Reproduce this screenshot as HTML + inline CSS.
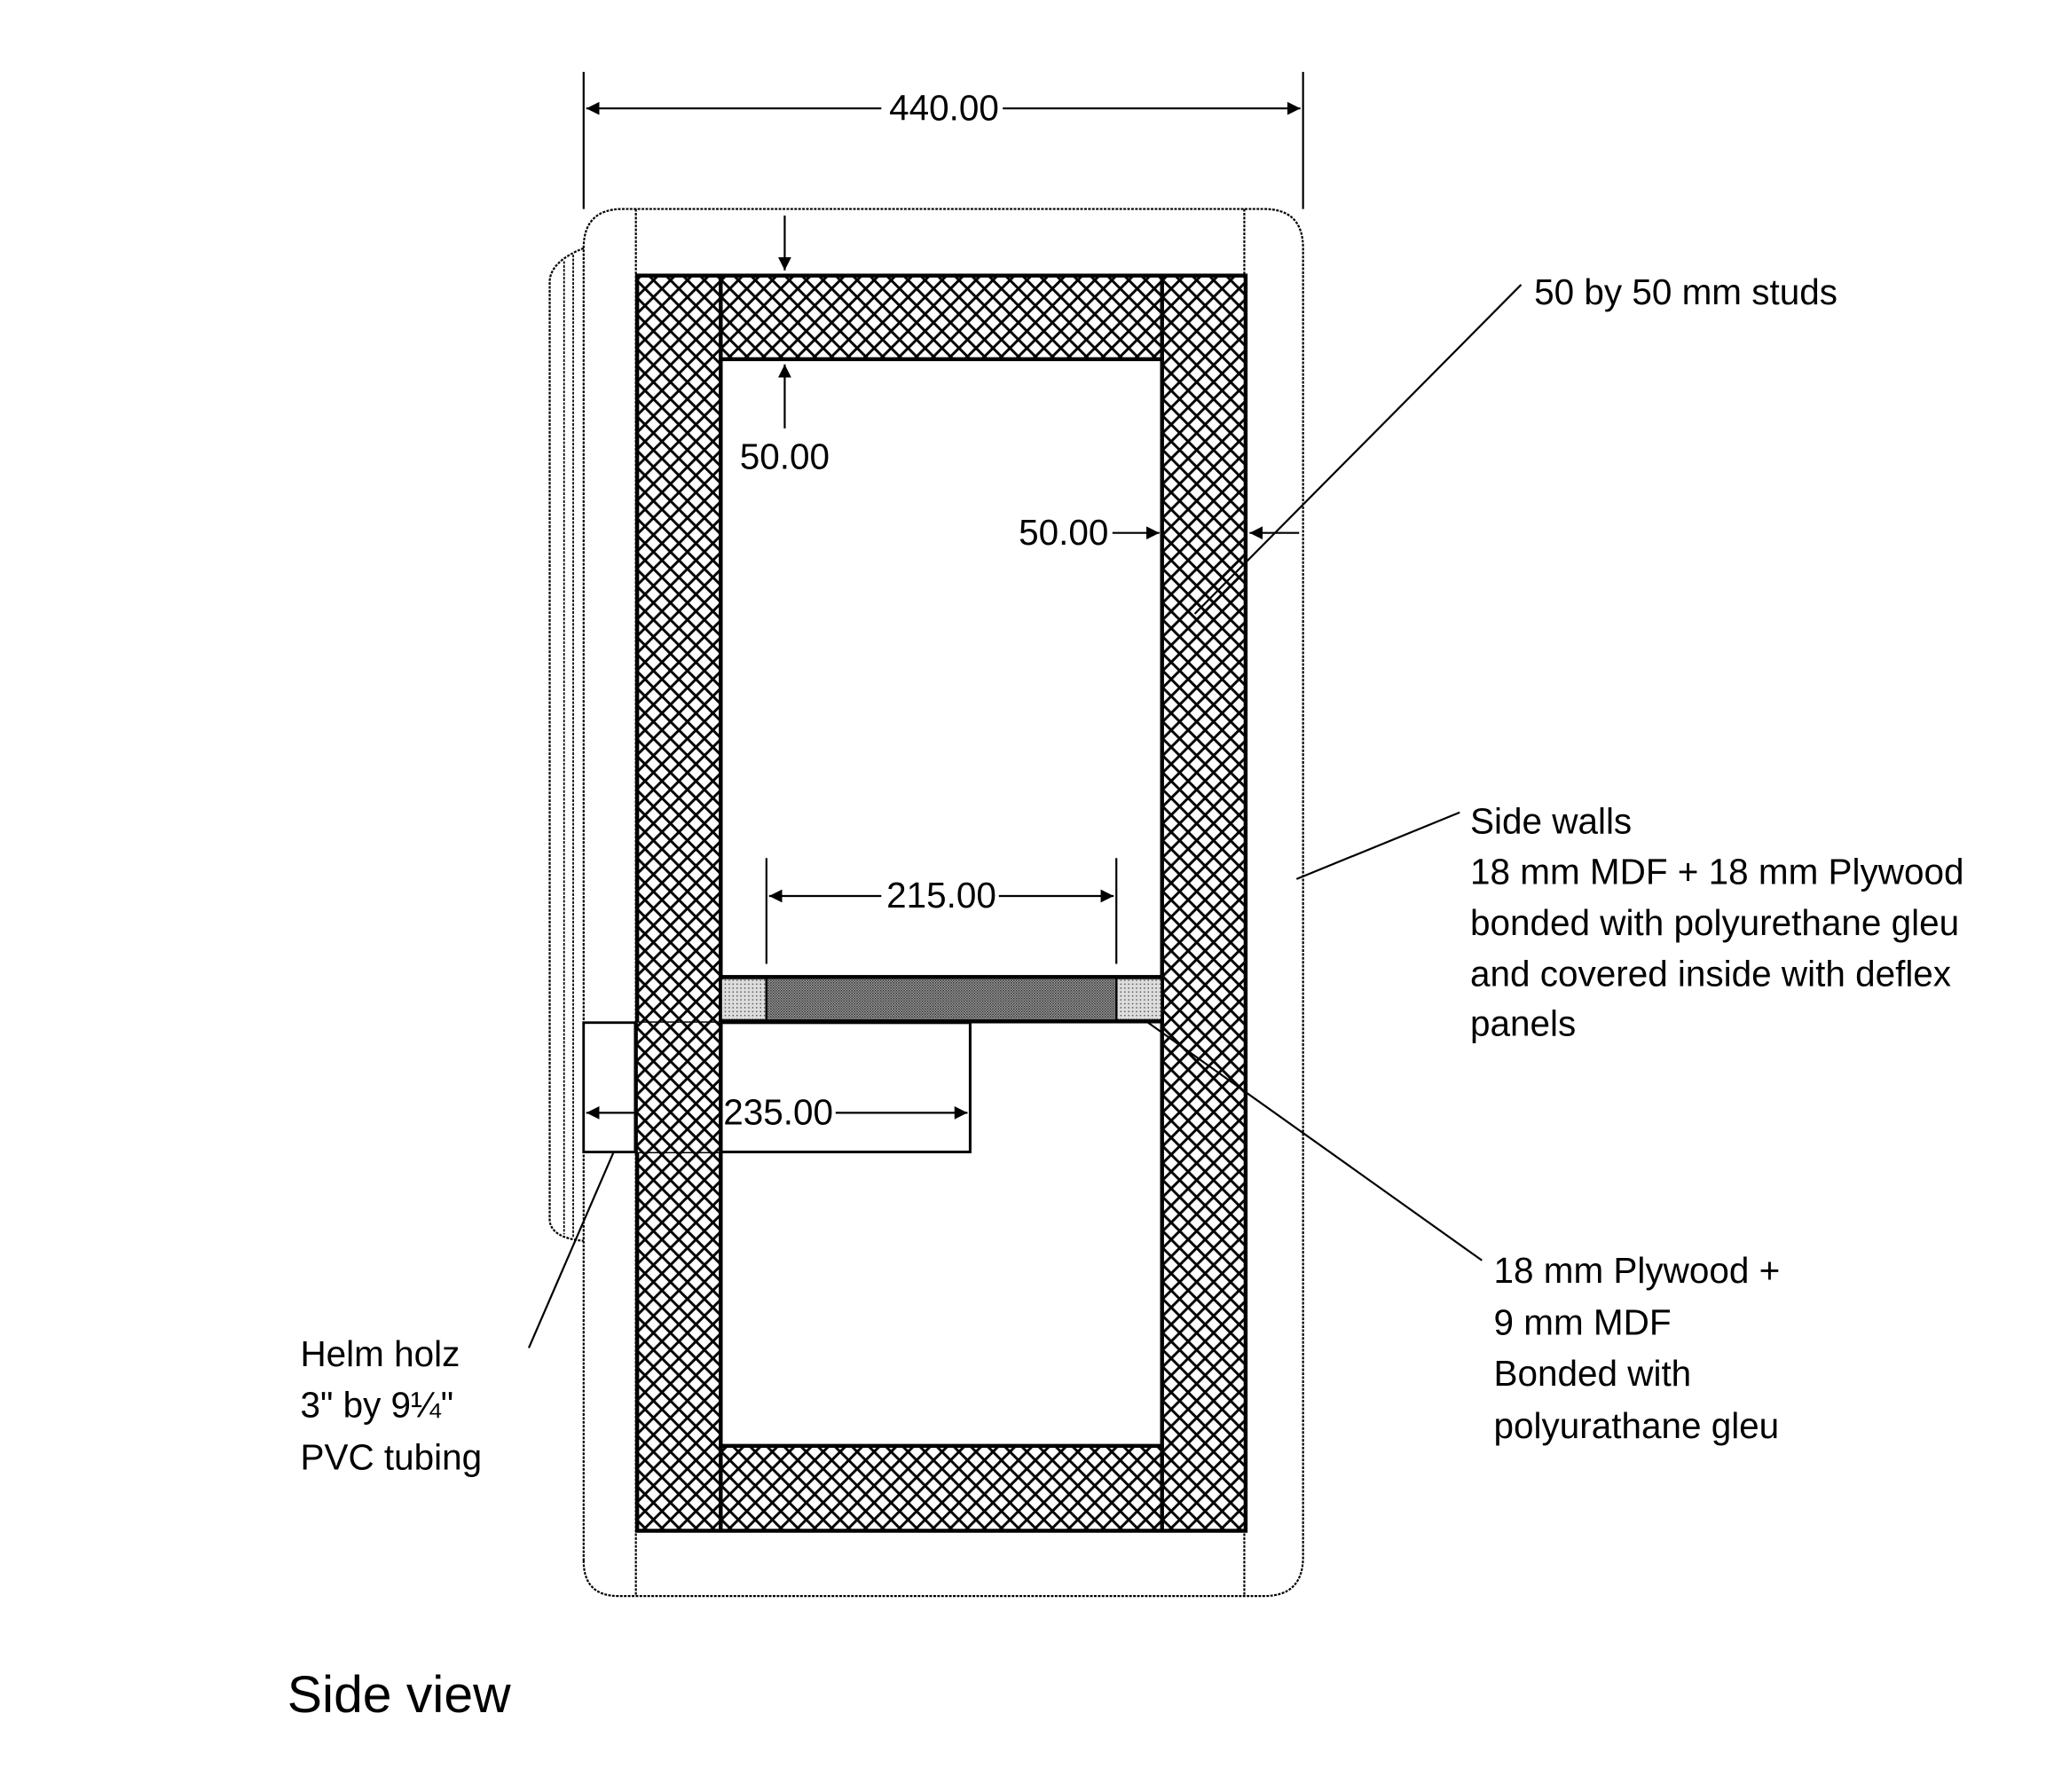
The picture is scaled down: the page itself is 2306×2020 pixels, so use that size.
<!DOCTYPE html>
<html><head><meta charset="utf-8"><style>
html,body{margin:0;padding:0;background:#fff;}
svg{display:block;}
text{font-family:"Liberation Sans",Arial,sans-serif;fill:#000;}
</style></head><body>
<svg width="2306" height="2020" viewBox="0 0 1567 1372" preserveAspectRatio="none" xmlns="http://www.w3.org/2000/svg">
<defs>
<pattern id="hx" width="13" height="13" patternUnits="userSpaceOnUse">
<rect width="13" height="13" fill="#fff"/>
<path d="M0 0L13 13M13 0L0 13" stroke="#000" stroke-width="2"/>
</pattern>
<pattern id="lt" width="3" height="3" patternUnits="userSpaceOnUse">
<rect width="3" height="3" fill="#ddd"/><rect width="1" height="1" fill="#555"/>
</pattern>
<pattern id="dk" width="2" height="2" patternUnits="userSpaceOnUse">
<rect width="2" height="2" fill="#aaa"/><rect width="1" height="1" fill="#222"/><rect x="1" y="1" width="1" height="1" fill="#444"/>
</pattern>
<marker id="ar" viewBox="0 0 10 10" refX="10" refY="5" markerWidth="18" markerHeight="10" markerUnits="userSpaceOnUse" orient="auto"><path d="M0 0L10 5L0 10Z" fill="#000"/></marker>
</defs>
<g fill="none" stroke="#000">
<path d="M447 1195 L447 190 Q447 160 477 160 L968 160 Q998 160 998 190 L998 1192 Q998 1222 968 1222 L474 1222 Q447 1222 447 1195 Z" stroke-width="1.5" stroke-dasharray="2 1"/>
<line x1="487" y1="160" x2="487" y2="1222" stroke-width="1.5" stroke-dasharray="2 1"/>
<line x1="953" y1="160" x2="953" y2="1222" stroke-width="1.5" stroke-dasharray="2 1"/>
<path d="M447 190 Q422 200 421 215 L421 935 Q423 948 447 950" stroke-width="1.5" stroke-dasharray="2 1"/>
<line x1="432" y1="200" x2="432" y2="945" stroke-width="1.2" stroke-dasharray="2 1"/>
<line x1="439" y1="195" x2="439" y2="948" stroke-width="1.2" stroke-dasharray="2 1"/>
</g>
<rect x="488" y="211" width="466" height="961" fill="url(#hx)" stroke="#000" stroke-width="3"/>
<rect x="552" y="275" width="338" height="832" fill="#fff" stroke="#000" stroke-width="3"/>
<line x1="552" y1="211" x2="552" y2="275" stroke="#000" stroke-width="3"/>
<line x1="890" y1="211" x2="890" y2="275" stroke="#000" stroke-width="3"/>
<line x1="552" y1="1107" x2="552" y2="1172" stroke="#000" stroke-width="3"/>
<line x1="890" y1="1107" x2="890" y2="1172" stroke="#000" stroke-width="3"/>
<rect x="552" y="748" width="338" height="34" fill="url(#dk)" stroke="#000" stroke-width="3"/>
<rect x="553" y="750" width="33" height="30" fill="url(#lt)"/>
<rect x="856" y="750" width="33" height="30" fill="url(#lt)"/>
<line x1="587" y1="748" x2="587" y2="782" stroke="#000" stroke-width="1.5"/>
<line x1="855" y1="748" x2="855" y2="782" stroke="#000" stroke-width="1.5"/>
<rect x="447" y="783" width="296" height="99" fill="none" stroke="#000" stroke-width="2"/>
<rect x="553" y="784" width="189" height="97" fill="#fff"/>
<rect x="448" y="784" width="38" height="97" fill="#fff"/>
<rect x="487" y="783" width="65" height="99" fill="url(#hx)"/>
<line x1="487" y1="783" x2="487" y2="882" stroke="#000" stroke-width="3"/>
<line x1="552" y1="783" x2="552" y2="882" stroke="#000" stroke-width="3"/>
<line x1="552" y1="783" x2="743" y2="783" stroke="#000" stroke-width="2"/>
<line x1="552" y1="882" x2="743" y2="882" stroke="#000" stroke-width="2"/>
<line x1="743" y1="783" x2="743" y2="882" stroke="#000" stroke-width="2"/>
<g stroke="#000" stroke-width="1.5" fill="none">
<line x1="447" y1="55" x2="447" y2="160"/>
<line x1="998" y1="55" x2="998" y2="160"/>
<line x1="675" y1="83" x2="449" y2="83" marker-end="url(#ar)"/>
<line x1="768" y1="83" x2="996" y2="83" marker-end="url(#ar)"/>
<line x1="601" y1="165" x2="601" y2="207" marker-end="url(#ar)"/>
<line x1="601" y1="328" x2="601" y2="279" marker-end="url(#ar)"/>
<line x1="852" y1="408" x2="888" y2="408" marker-end="url(#ar)"/>
<line x1="995" y1="408" x2="957" y2="408" marker-end="url(#ar)"/>
<line x1="587" y1="657" x2="587" y2="738"/>
<line x1="855" y1="657" x2="855" y2="738"/>
<line x1="675" y1="686" x2="589" y2="686" marker-end="url(#ar)"/>
<line x1="765" y1="686" x2="853" y2="686" marker-end="url(#ar)"/>
<line x1="486" y1="852" x2="449" y2="852" marker-end="url(#ar)"/>
<line x1="640" y1="852" x2="741" y2="852" marker-end="url(#ar)"/>
<line x1="1165" y1="218" x2="915" y2="470"/>
<line x1="1118" y1="622" x2="993" y2="673"/>
<line x1="878" y1="782" x2="1135" y2="965"/>
<line x1="470" y1="882" x2="405" y2="1032"/>
</g>
<g font-size="27.5">
<text x="723" y="92" text-anchor="middle">440.00</text>
<text x="601" y="359" text-anchor="middle">50.00</text>
<text x="849" y="417" text-anchor="end">50.00</text>
<text x="721" y="695" text-anchor="middle">215.00</text>
<text x="554" y="861">235.00</text>
<text x="1175" y="233">50 by 50 mm studs</text>
<text x="1126" y="638">Side walls</text>
<text x="1126" y="677">18 mm MDF + 18 mm Plywood</text>
<text x="1126" y="716">bonded with polyurethane gleu</text>
<text x="1126" y="755">and covered inside with deflex</text>
<text x="1126" y="793">panels</text>
<text x="1144" y="982">18 mm Plywood  +</text>
<text x="1144" y="1022">9 mm MDF</text>
<text x="1144" y="1061">Bonded with</text>
<text x="1144" y="1101">polyurathane gleu</text>
<text x="230" y="1046">Helm holz</text>
<text x="230" y="1085">3" by 9¼"</text>
<text x="230" y="1125">PVC tubing</text>
</g>
<text x="220" y="1311" font-size="40">Side view</text>
</svg>
</body></html>
